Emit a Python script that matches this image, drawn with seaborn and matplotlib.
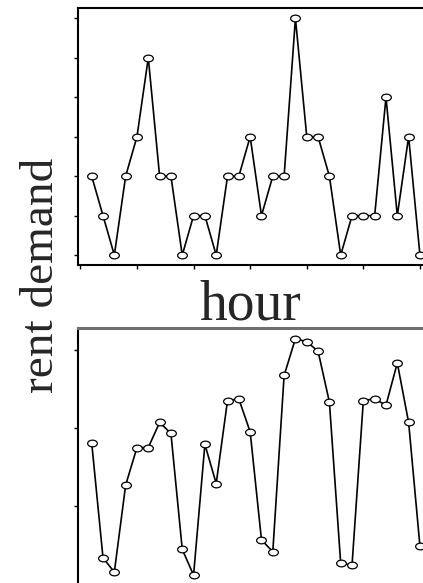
import numpy as np
import pandas as pd
import seaborn as sns
import matplotlib
matplotlib.use("Agg")
import matplotlib.pyplot as plt
from matplotlib.path import Path
from matplotlib.markers import MarkerStyle
from matplotlib.transforms import Affine2D

# ---- data ----
hours = list(range(1, 31))
demand_top = [2, 1, 0, 2, 3, 5, 2, 2, 0, 1,
              1, 0, 2, 2, 3, 1, 2, 2, 6, 3,
              3, 2, 0, 1, 1, 1, 4, 1, 3, 0]
demand_bottom = [181, 34, 16, 127, 175, 175, 207, 193, 45, 12,
                 179, 129, 235, 237, 195, 57, 42, 267, 314, 310,
                 298, 233, 27, 25, 235, 237, 229, 283, 207, 49]
xticks = [0, 5, 10, 15, 20, 25, 30]
yticks_top = [0, 1, 2, 3, 4, 5, 6]
yticks_bottom = [100, 200, 300]
xlabel = "hour"
ylabel = "rent demand"

sns.set_style("ticks")
plt.rcParams['font.family'] = ['Liberation Serif', 'DejaVu Serif']

fig = plt.figure(figsize=(4.23, 5.83), dpi=100)
W, H = 423, 583

def ax_rect(l, t, r, b):
    return [l / W, 1 - b / H, (r - l) / W, (b - t) / H]

ax1 = fig.add_axes(ax_rect(78, 8, 423, 265))
ax2 = fig.add_axes(ax_rect(78, 328, 423, 583))

ellipse = Path.unit_circle().transformed(Affine2D().scale(1.45, 1.0))
mk = MarkerStyle(ellipse)

df1 = pd.DataFrame({"hour": hours, "demand": demand_top})
df2 = pd.DataFrame({"hour": hours, "demand": demand_bottom})

for ax, df in [(ax1, df1), (ax2, df2)]:
    sns.lineplot(data=df, x="hour", y="demand", ax=ax, color="black",
                 linewidth=1.2, marker=mk, markersize=7,
                 markerfacecolor="white", markeredgecolor="black",
                 markeredgewidth=0.9)
    ax.set_xlim(-0.21, 30.27)
    ax.set_xlabel("")
    ax.set_ylabel("")
    ax.spines["right"].set_visible(False)
    ax.tick_params(labelleft=False, labelbottom=False, length=3, width=1,
                   color="black")

ax1.set_ylim(-0.25, 6.26)
ax1.set_yticks(yticks_top)
ax1.set_xticks(xticks)
for s in ["top", "left", "bottom"]:
    ax1.spines[s].set_linewidth(1.5)
    ax1.spines[s].set_color("black")

ax2.set_ylim(2, 327.6)
ax2.set_yticks(yticks_bottom)
ax2.set_xticks([])
ax2.spines["bottom"].set_visible(False)
ax2.spines["left"].set_linewidth(1.5)
ax2.spines["left"].set_color("black")
ax2.spines["top"].set_linewidth(2.2)
ax2.spines["top"].set_color("#707070")

fig.text(250 / W, 1 - 320 / H, xlabel, ha="center", va="baseline",
         fontsize=40)
fig.text(53 / W, 1 - 275.5 / H, ylabel, ha="center", va="baseline",
         rotation=90, rotation_mode="anchor", fontsize=34)

fig.savefig("out.png", dpi=100)
